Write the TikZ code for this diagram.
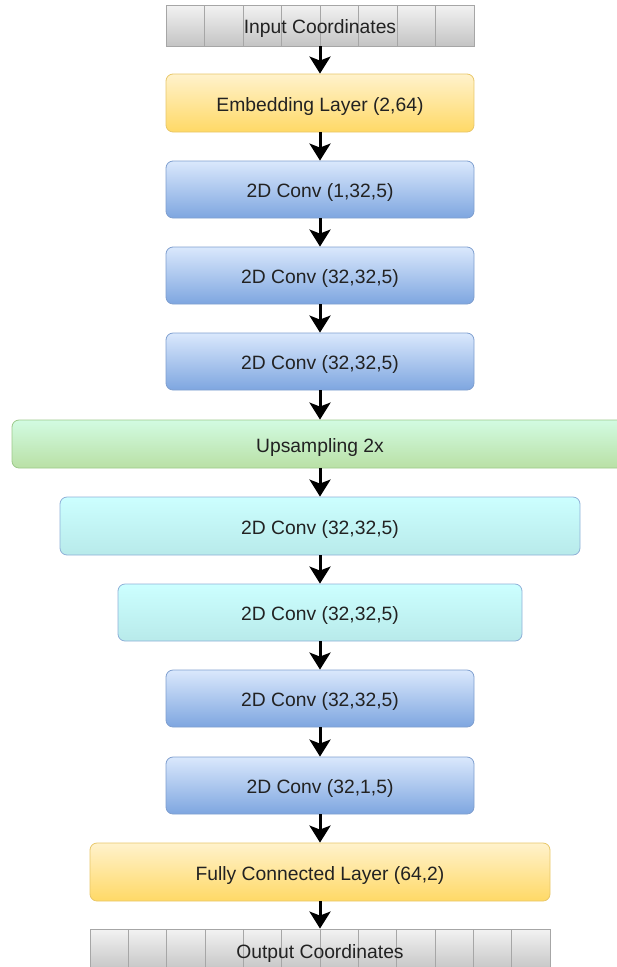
\documentclass[tikz,border=0pt]{standalone}
\usepackage{fontspec}
\setmainfont{Liberation Sans}
\usetikzlibrary{arrows.meta}

\definecolor{txt}{HTML}{222222}
\definecolor{grayTop}{HTML}{F2F2F2}
\definecolor{grayBot}{HTML}{C4C4C4}
\definecolor{grayLine}{HTML}{A6A6A6}
\definecolor{yelTop}{HTML}{FFF2CC}
\definecolor{yelBot}{HTML}{FFD966}
\definecolor{yelLine}{HTML}{E8C76A}
\definecolor{bluTop}{HTML}{DAE8FC}
\definecolor{bluBot}{HTML}{7EA6E0}
\definecolor{bluLine}{HTML}{7F9FCF}
\definecolor{grnTop}{HTML}{D2FBE2}
\definecolor{grnBot}{HTML}{B9E0A5}
\definecolor{grnLine}{HTML}{9CC98A}
\definecolor{cyaTop}{HTML}{CCFFFF}
\definecolor{cyaBot}{HTML}{B8EAEA}
\definecolor{cyaLine}{HTML}{8FB0D8}

\tikzset{
  box/.style={draw, rounded corners=7pt, inner sep=0pt, line width=0.8pt,
    font=\fontsize{19.3}{23}\selectfont, text=txt, text height=17pt, text depth=1pt},
  gray box/.style={box, rounded corners=0pt, draw=grayLine, top color=grayTop, bottom color=grayBot},
  yellow box/.style={box, draw=yelLine, top color=yelTop, bottom color=yelBot},
  blue box/.style={box, draw=bluLine, top color=bluTop, bottom color=bluBot},
  green box/.style={box, draw=grnLine, top color=grnTop, bottom color=grnBot},
  cyan box/.style={box, draw=cyaLine, top color=cyaTop, bottom color=cyaBot},
  cells/.style={path picture={
    \foreach \k in {1,...,#1}
      \draw[grayLine, line width=0.8pt]
        ([xshift=\k*\cellw]path picture bounding box.north west) --
        ([xshift=\k*\cellw]path picture bounding box.south west);}},
  flow/.style={line width=3pt, -{Stealth[width=21pt,length=17pt,inset=4pt]}},
}
\newlength{\cellw}

\begin{document}
\begin{tikzpicture}[x=1pt,y=-1pt]
\useasboundingbox (0,0) rectangle (617,967);
\clip (0,0) rectangle (617,967);

% input and embedding
\setlength{\cellw}{38.5pt}
\node[gray box, cells=7, minimum width=308pt, minimum height=41pt] (inp) at (320,25.5) {Input Coordinates};
\node[yellow box, minimum width=308pt, minimum height=58pt] (emb) at (320,103) {Embedding Layer (2,64)};

% encoder convolutions
\node[blue box, minimum width=308pt, minimum height=57pt] (c1) at (320,189.5) {2D Conv (1,32,5)};
\node[blue box, minimum width=308pt, minimum height=57pt] (c2) at (320,275.5) {2D Conv (32,32,5)};
\node[blue box, minimum width=308pt, minimum height=57pt] (c3) at (320,361.5) {2D Conv (32,32,5)};

% upsampling
\node[green box, minimum width=616pt, minimum height=48pt] (up) at (320,444) {Upsampling 2x};

% decoder convolutions
\node[cyan box, minimum width=520pt, minimum height=58pt] (c4) at (320,526) {2D Conv (32,32,5)};
\node[cyan box, minimum width=404pt, minimum height=57pt] (c5) at (320,612.5) {2D Conv (32,32,5)};
\node[blue box, minimum width=308pt, minimum height=57pt] (c6) at (320,698.5) {2D Conv (32,32,5)};
\node[blue box, minimum width=308pt, minimum height=57pt] (c7) at (320,785.5) {2D Conv (32,1,5)};

% output
\node[yellow box, minimum width=460pt, minimum height=58pt] (fc) at (320,872) {Fully Connected Layer (64,2)};
\setlength{\cellw}{38.333pt}
\node[gray box, cells=11, minimum width=460pt, minimum height=42pt] (out) at (320,950) {Output Coordinates};

% connectors
\foreach \a/\b in {inp/emb, emb/c1, c1/c2, c2/c3, c3/up, up/c4, c4/c5, c5/c6, c6/c7, c7/fc, fc/out}
  \draw[flow] (\a.south) -- (\b.north);
\end{tikzpicture}
\end{document}
